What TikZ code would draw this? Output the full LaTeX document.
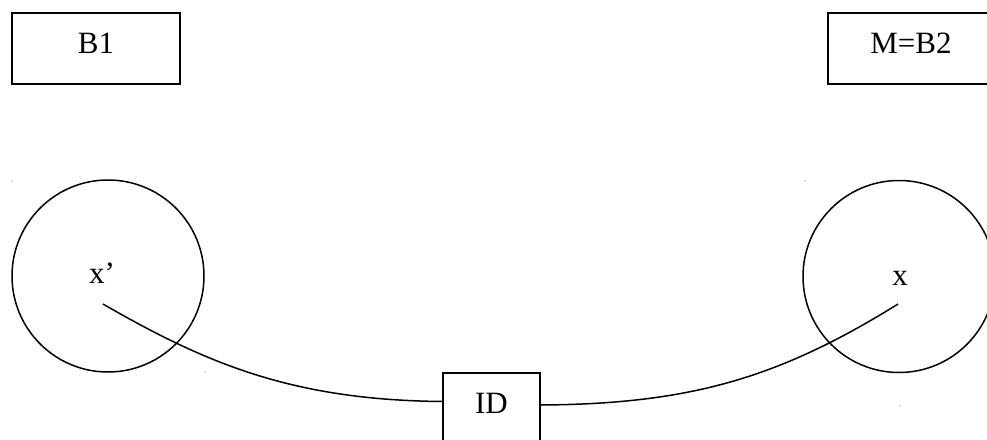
\documentclass[tikz,border=0pt]{standalone}
\usepackage{fontspec}
\setmainfont{Liberation Serif}
\begin{document}
\begin{tikzpicture}[x=1pt,y=-1pt,
  every node/.style={font=\fontsize{31}{36}\selectfont},
  box/.style={draw, line width=1.5pt, rectangle, inner sep=0pt, minimum height=71pt, text height=40pt, text depth=31pt},
  ring/.style={draw, line width=1.5pt, circle, inner sep=0pt, minimum size=192pt},
  lbl/.style={anchor=base, inner sep=0pt},
  link/.style={line width=1.5pt},
  speck/.style={fill=black!60, draw=none}]
\useasboundingbox (0,0) rectangle (987,439);
\clip (0,0) rectangle (987,439);
\fill[white] (0,0) rectangle (987,439);
% boxes
\node[box, minimum width=168pt] (b1) at (96,48.5) {B1};
\node[box, minimum width=166pt] (b2) at (911,48.5) {M=B2};
\node[box, minimum width=97pt] (id) at (491.5,408.5) {ID};
% circles
\node[ring] (c1) at (108,276) {};
\node[ring] (c2) at (899,276.5) {};
\node[lbl] (t1) at (102,283) {x’};
\node[lbl] (t2) at (900,285) {x};
% connector end points
\coordinate (p1) at (103,304);
\coordinate (p2) at (898,304);
\draw[link] (p1) .. controls (207,364) and (293,400) .. ([yshift=7pt]id.west);
\draw[link] ([yshift=3.5pt]id.east) .. controls (690,404) and (779,378) .. (p2);
% tiny stray marks
\fill[speck] (12,181) circle (0.7pt);
\fill[speck] (205,372) circle (0.7pt);
\fill[speck] (805,181) circle (0.7pt);
\fill[speck] (900,406) circle (0.7pt);
\end{tikzpicture}
\end{document}
